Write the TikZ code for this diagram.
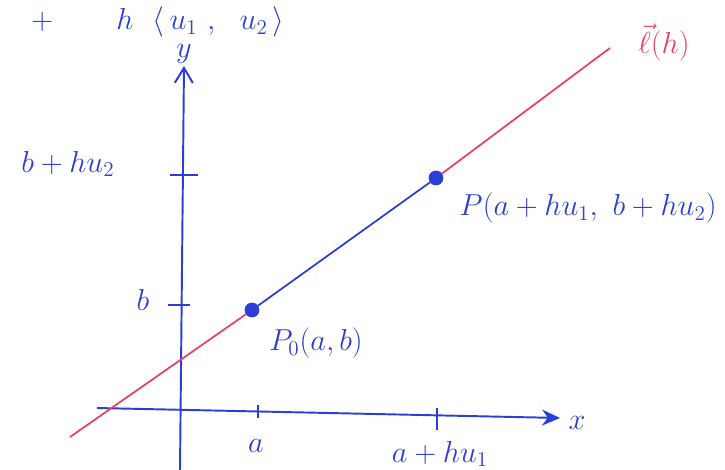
\documentclass[tikz,border=0pt]{standalone}
\usepackage{tikz}
\usetikzlibrary{arrows.meta,positioning,calc}
\definecolor{pblue}{HTML}{2B3FD6}
\definecolor{pred}{HTML}{E8406A}

\begin{document}
\begin{tikzpicture}[x=0.02cm, y=-0.02cm,
  axis/.style={pblue, line width=1.1pt},
  tick/.style={pblue, line width=1pt},
  lbl/.style={pblue, font=\fontsize{18}{21}\selectfont, inner sep=1pt},
  dot/.style={circle, fill=pblue, draw=pblue, inner sep=0pt, minimum size=8pt}]
 \useasboundingbox (0,0) rectangle (725,470);
 % axes
 \coordinate (ybot) at (180,470);
 \coordinate (ytop) at (184,66);
 \coordinate (xleft) at (97,408);
 \coordinate (xright) at (560,418);
 \draw[axis, -{Straight Barb[length=3mm, width=3.6mm]}] (ybot) -- (ytop);
 \draw[axis, -{Stealth[length=3.6mm, width=3.2mm]}] (xleft) -- (xright);
 \node[lbl] (ylab) at (184,54) {$y$};
 \node[lbl] (xlab) at (577,423) {$x$};
 % ticks
 \draw[tick] (170,175) -- (198,175);
 \draw[tick] (168,305) -- (190,305);
 \draw[tick] (258,405) -- (258,418);
 \draw[tick] (437,408) -- (437,430);
 \node[lbl] (b2) at (68,164) {$b + hu_2$};
 \node[lbl] (b) at (143,300) {$b$};
 \node[lbl] (a) at (256,446) {$a$};
 \node[lbl] (a2) at (440,454) {$a + hu_1$};
 % the line
 \coordinate (lstart) at (70,437);
 \coordinate (lend) at (610,48);
 \node[dot] (P0) at (252,310) {};
 \node[dot] (P) at (436,178) {};
 \draw[pred, line width=1pt] (lstart) -- (P0);
 \draw[pblue, line width=1pt] (P0) -- (P);
 \draw[pred, line width=1pt] (P) -- (lend);
 \node[lbl] (P0lab) at (316,343) {$P_0(a,b)$};
 \node[lbl] (Plab) at (588,208) {$P(a+hu_1,\ b+hu_2)$};
 \node[lbl, pred] (llab) at (664,42) {$\vec{\ell}(h)$};
 \node[lbl] (top) at (158,22) {$+\qquad h\ \ \langle\, u_1\ ,\ \ u_2\,\rangle$};
\end{tikzpicture}
\end{document}
